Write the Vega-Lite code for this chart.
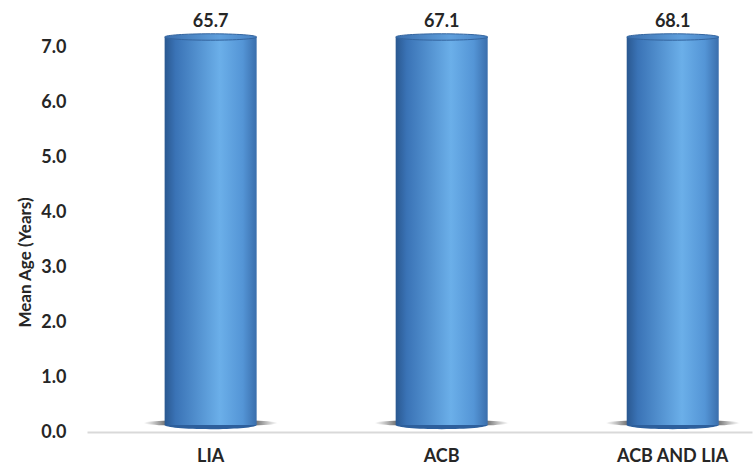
{
  "$schema": "https://vega.github.io/schema/vega-lite/v6.json",
  "autosize": "none",
  "width": 665,
  "height": 395,
  "padding": {"left": 87, "top": 37, "right": 3, "bottom": 37},
  "background": "white",
  "config": {
    "view": {"stroke": null},
    "font": "Lato"
  },
  "data": {
    "values": [
      {"group": "LIA", "meanAge": 65.7},
      {"group": "ACB", "meanAge": 67.1},
      {"group": "ACB AND LIA", "meanAge": 68.1}
    ]
  },
  "encoding": {
    "x": {
      "field": "group",
      "type": "nominal",
      "sort": null,
      "scale": {"paddingInner": 0.6017, "paddingOuter": 0.24, "align": 0.7},
      "axis": {
        "title": null,
        "labelAngle": 0,
        "labelFont": "Lato",
        "labelFontSize": 18,
        "labelFontWeight": "bold",
        "labelColor": "#262626",
        "labelPadding": 15,
        "labelDx": -11,
        "ticks": false,
        "domainColor": "#d9d9d9",
        "domainWidth": 2
      }
    }
  },
  "layer": [
    {
      "mark": {
        "type": "point",
        "shape": "M-1,0A1,0.05,0,1,1,1,0A1,0.05,0,1,1,-1,0Z",
        "size": 18000,
        "filled": true,
        "opacity": 1,
        "yOffset": -9,
        "fill": {
          "gradient": "radial",
          "x1": 0.5, "y1": 0.5, "x2": 0.5, "y2": 0.5,
          "r1": 0, "r2": 0.5,
          "stops": [
            {"offset": 0, "color": "rgba(20,20,20,0.95)"},
            {"offset": 0.7, "color": "rgba(40,40,40,0.6)"},
            {"offset": 1, "color": "rgba(80,80,80,0)"}
          ]
        }
      },
      "encoding": {"y": {"datum": 0, "type": "quantitative"}}
    },
    {
      "mark": {
        "type": "point",
        "shape": "M-1,0A1,0.09,0,1,1,1,0A1,0.09,0,1,1,-1,0Z",
        "size": 8464,
        "filled": true,
        "opacity": 1,
        "yOffset": -7,
        "fill": "#2d5f9c"
      },
      "encoding": {"y": {"datum": 0, "type": "quantitative"}}
    },
    {
      "mark": {
        "type": "bar",
        "clip": false,
        "y2Offset": -7,
        "fill": {
          "gradient": "linear",
          "x1": 0, "y1": 0, "x2": 1, "y2": 0,
          "stops": [
            {"offset": 0, "color": "#2a5890"},
            {"offset": 0.12, "color": "#3a73b6"},
            {"offset": 0.6, "color": "#6bafe9"},
            {"offset": 0.85, "color": "#5495d6"},
            {"offset": 1, "color": "#3a6eac"}
          ]
        }
      },
      "encoding": {
        "y": {
          "field": "meanAge",
          "type": "quantitative",
          "scale": {"domain": [0, 7.2], "clamp": true, "nice": false},
          "axis": {
            "title": "Mean Age (Years)",
            "titleFont": "Lato",
            "titleFontSize": 17,
            "titleFontWeight": "bold",
            "titleColor": "#262626",
            "titleX": -62,
            "titleY": 225,
            "titleAlign": "center",
            "titleBaseline": "middle",
            "titleAngle": -90,
            "values": [0, 1, 2, 3, 4, 5, 6, 7],
            "format": ".1f",
            "labelFont": "Lato",
            "labelFontSize": 18,
            "labelFontWeight": "bold",
            "labelColor": "#262626",
            "labelPadding": 21,
            "ticks": false,
            "domain": false,
            "grid": false
          }
        },
        "y2": {"datum": 0}
      }
    },
    {
      "mark": {
        "type": "point",
        "shape": "M-1,0A1,0.07,0,1,1,1,0A1,0.07,0,1,1,-1,0Z",
        "size": 8464,
        "filled": true,
        "opacity": 1,
        "fill": {
          "gradient": "linear",
          "x1": 0, "y1": 0, "x2": 1, "y2": 0,
          "stops": [
            {"offset": 0, "color": "#3b6fae"},
            {"offset": 0.6, "color": "#5f9fdc"},
            {"offset": 1, "color": "#4680c2"}
          ]
        },
        "stroke": "#34659f",
        "strokeWidth": 1
      },
      "encoding": {"y": {"field": "meanAge", "type": "quantitative"}}
    },
    {
      "mark": {
        "type": "text",
        "dy": -15,
        "font": "Lato",
        "fontSize": 18,
        "fontWeight": "bold",
        "color": "#262626"
      },
      "encoding": {
        "y": {"field": "meanAge", "type": "quantitative"},
        "text": {"field": "meanAge", "type": "quantitative", "format": ".1f"}
      }
    }
  ]
}
